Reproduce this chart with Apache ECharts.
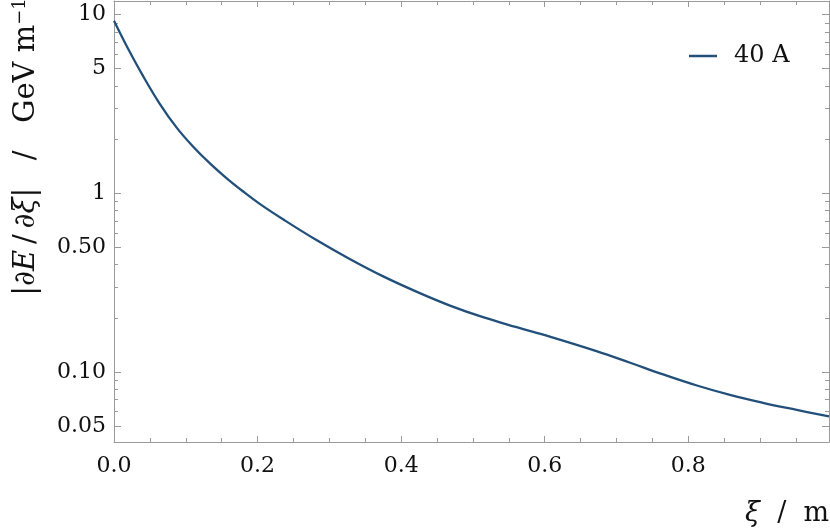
<!DOCTYPE html>
<html><head><meta charset="utf-8">
<script src="https://cdn.jsdelivr.net/npm/echarts@6/dist/echarts.min.js"></script>
<style>html,body{margin:0;padding:0;background:#fff}#c{width:830px;height:530px}</style>
</head><body><div id="c"></div>
<script>
// ---- data ----
const xi = [0, 0.018, 0.041, 0.064, 0.087, 0.11, 0.134, 0.157, 0.18, 0.203, 0.236, 0.282, 0.329, 0.375, 0.422, 0.468, 0.514, 0.561, 0.607, 0.672, 0.719, 0.765, 0.812, 0.858, 0.904, 0.951, 0.996];
const dEdxi = [9.25, 6.64, 4.5, 3.16, 2.34, 1.83, 1.466, 1.214, 1.024, 0.874, 0.714, 0.548, 0.428, 0.343, 0.281, 0.2355, 0.2028, 0.1782, 0.1578, 0.1309, 0.1127, 0.097, 0.0841, 0.0745, 0.0673, 0.0614, 0.0564];
const seriesName = '40 A';
const yTickValues = [0.05, 0.1, 0.5, 1, 5, 10];
const yTickLabels = ['0.05', '0.10', '0.50', '1', '5', '10'];
const yMinorValues = [0.06, 0.07, 0.08, 0.09, 0.2, 0.3, 0.4, 0.6, 0.7, 0.8, 0.9, 2, 3, 4, 6, 7, 8, 9];
const xRange = [0, 0.996];
const yRange = [0.0406, 11.93];

// ---- chart ----
const FONT = 'DejaVu Serif';
const FRAME = '#9a9a9a';
const TEXT = '#111';
const LINE = '#22507a';
const lg = Math.log10;
const yMajorLog = yTickValues.map(lg);
const yMinorLog = yMinorValues.map(lg);

function yLabel(v) {
  for (let i = 0; i < yTickValues.length; i++) {
    if (Math.abs(lg(yTickValues[i]) - v) < 1e-6) return yTickLabels[i];
  }
  return '';
}

function yAx(position, minor, labels) {
  return {
    type: 'value', position: position, min: lg(yRange[0]), max: lg(yRange[1]),
    axisLine: { show: !minor, lineStyle: { color: FRAME, width: 1 } },
    axisTick: { show: true, inside: true, length: minor ? 4 : 7, customValues: minor ? yMinorLog : yMajorLog,
      lineStyle: { color: FRAME, width: 1 } },
    axisLabel: labels ? { show: true, customValues: yMajorLog, formatter: yLabel, margin: 8,
      fontFamily: FONT, fontSize: 22, color: TEXT } : { show: false },
    splitLine: { show: false }, minorTick: { show: false }
  };
}
function xAx(position, labels) {
  return {
    type: 'value', position: position, min: xRange[0], max: xRange[1], interval: 0.2,
    axisLine: { show: true, onZero: false, lineStyle: { color: FRAME, width: 1 } },
    axisTick: { show: true, inside: true, length: 6, lineStyle: { color: FRAME, width: 1 } },
    minorTick: { show: true, splitNumber: 4, length: 4, lineStyle: { color: FRAME, width: 1 } },
    axisLabel: labels ? { show: true, showMaxLabel: false, margin: 13, formatter: v => v.toFixed(1),
      fontFamily: FONT, fontSize: 22, color: TEXT } : { show: false },
    splitLine: { show: false }, minorSplitLine: { show: false }
  };
}

const chart = echarts.init(document.getElementById('c'), null, { renderer: 'canvas' });
chart.setOption({
  animation: false,
  backgroundColor: '#fff',
  grid: { left: 114, right: 1, top: 1, bottom: 88, containLabel: false, outerBoundsMode: 'none' },
  xAxis: [xAx('bottom', true), xAx('top', false)],
  yAxis: [yAx('left', false, true), yAx('left', true, false), yAx('right', false, false), yAx('right', true, false)],
  legend: {
    data: [seriesName], left: 689, top: 44, padding: 0, icon: 'rect', itemWidth: 28, itemHeight: 2.5,
    formatter: n => '{a|' + n + '}',
    textStyle: { fontFamily: FONT, fontSize: 24, color: TEXT,
      rich: { a: { fontFamily: FONT, fontSize: 24, color: TEXT, padding: [0, 0, 0, 12] } } }
  },
  graphic: [
    { type: 'text', x: 26, y: 147, rotation: Math.PI / 2, silent: true,
      style: { text: '{n||}{i|∂E}{n|\u2009/\u2009}{i|∂ξ}{n||   /   GeV m}{s|−1}', align: 'center', verticalAlign: 'middle',
        fontFamily: FONT, fontSize: 29, fill: TEXT,
        rich: {
          n: { fontFamily: FONT, fontSize: 29, fill: TEXT, color: TEXT },
          i: { fontFamily: FONT, fontSize: 29, fontStyle: 'italic', fill: TEXT, color: TEXT },
          s: { fontFamily: FONT, fontSize: 18, fill: TEXT, color: TEXT, verticalAlign: 'top' }
        } } },
    { type: 'text', x: 829, y: 514, silent: true,
      style: { text: '{i|ξ}{n|  /  m}', align: 'right', verticalAlign: 'middle', fontFamily: FONT, fontSize: 27, fill: TEXT,
        rich: {
          n: { fontFamily: FONT, fontSize: 27, fill: TEXT, color: TEXT },
          i: { fontFamily: FONT, fontSize: 27, fontStyle: 'italic', fill: TEXT, color: TEXT }
        } } }
  ],
  series: [{
    name: seriesName, type: 'line', xAxisIndex: 0, yAxisIndex: 0,
    data: xi.map((x, i) => [x, lg(dEdxi[i])]),
    showSymbol: false, smooth: 0.4, clip: true,
    lineStyle: { color: LINE, width: 2.3 }, itemStyle: { color: LINE }
  }]
});
</script></body></html>
